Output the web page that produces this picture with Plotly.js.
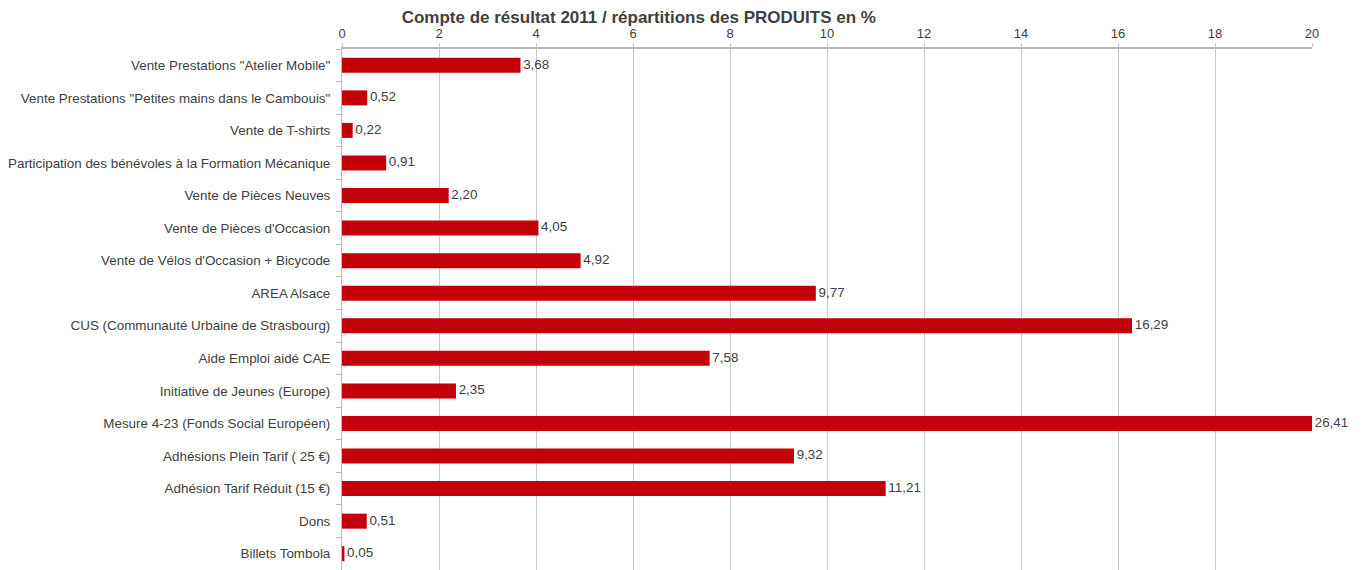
<!DOCTYPE html>
<html><head><meta charset="utf-8">
<script src="https://cdn.plot.ly/plotly-3.0.1.min.js"></script>
<style>body{margin:0;background:#fff}#c{width:1365px;height:570px}</style>
</head><body><div id="c"></div>
<script>
const categories = [
  'Vente Prestations "Atelier Mobile"',
  'Vente Prestations "Petites mains dans le Cambouis"',
  'Vente de T-shirts',
  'Participation des bénévoles à la Formation Mécanique',
  'Vente de Pièces Neuves',
  "Vente de Pièces d'Occasion",
  "Vente de Vélos d'Occasion + Bicycode",
  'AREA Alsace',
  'CUS (Communauté Urbaine de Strasbourg)',
  'Aide Emploi aidé CAE',
  'Initiative de Jeunes (Europe)',
  'Mesure 4-23 (Fonds Social Européen)',
  'Adhésions Plein Tarif ( 25 €)',
  'Adhésion Tarif Réduit (15 €)',
  'Dons',
  'Billets Tombola'
];
const values = [3.68, 0.52, 0.22, 0.91, 2.20, 4.05, 4.92, 9.77, 16.29, 7.58, 2.35, 26.41, 9.32, 11.21, 0.51, 0.05];
const xMax = 20;
const tickVals = [0,2,4,6,8,10,12,14,16,18,20];

const labels = values.map(v => v.toFixed(2).replace('.', ','));
const font = "'Liberation Sans', Arial, sans-serif";

const bars = {
  type: 'bar', orientation: 'h',
  y: categories, x: values,
  marker: {color: '#c4000b'},
  cliponaxis: true,
  hoverinfo: 'none'
};
const texts = {
  type: 'scatter', mode: 'text',
  y: categories, x: values.map(v => Math.min(v, xMax)),
  text: labels.map(t => '\u2009' + t),
  textposition: 'middle right',
  textfont: {family: font, size: 13.4, color: '#404040'},
  cliponaxis: false,
  hoverinfo: 'none'
};

const layout = {
  width: 1365, height: 570,
  margin: {l: 342, r: 53, t: 49, b: 0},
  paper_bgcolor: '#fff', plot_bgcolor: '#fff',
  showlegend: false,
  bargap: 0.54,
  font: {family: font, color: '#404040', size: 13},
  title: {
    text: '<b>Compte de résultat 2011 / répartitions des PRODUITS en %</b>',
    font: {family: font, size: 17, color: '#404040'},
    x: 0.468, xanchor: 'center', xref: 'container',
    y: 0.97, yanchor: 'middle', yref: 'container'
  },
  xaxis: {
    side: 'top', range: [0, xMax], tickvals: tickVals,
    showgrid: true, gridcolor: '#c8c8c8', gridwidth: 1,
    showline: true, linecolor: '#b8b8b8', linewidth: 2,
    ticks: 'outside', ticklen: 4, tickcolor: '#c8c8c8',
    zeroline: false, fixedrange: true,
    tickfont: {family: font, size: 13, color: '#404040'}
  },
  yaxis: {
    type: 'category', range: [15.5, -0.5], autorange: false,
    showline: true, linecolor: '#b8b8b8', linewidth: 1,
    ticks: 'outside', ticklen: 5, tickcolor: '#b8b8b8', tickson: 'boundaries',
    showgrid: false, zeroline: false, fixedrange: true,
    ticklabelstandoff: 8,
    tickfont: {family: font, size: 13.4, color: '#404040'}
  }
};
Plotly.newPlot('c', [bars, texts], layout, {displayModeBar: false, staticPlot: true});
</script></body></html>
